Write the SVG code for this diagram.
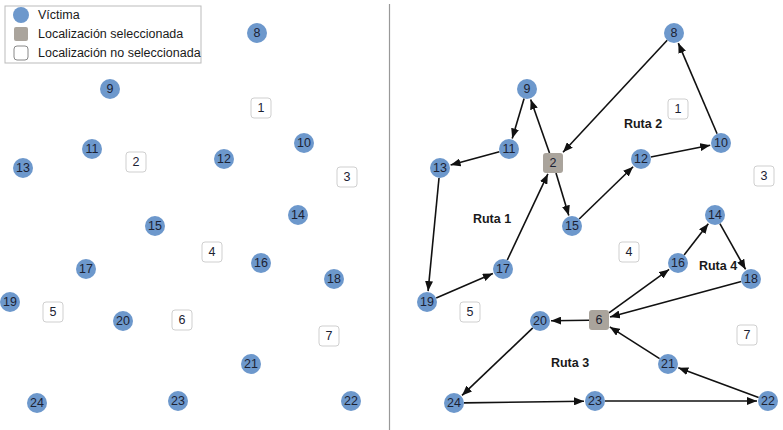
<svg xmlns="http://www.w3.org/2000/svg" width="783" height="430" viewBox="0 0 783 430">
<defs>
<marker id="ah" markerUnits="userSpaceOnUse" markerWidth="10" markerHeight="8" refX="10" refY="4" orient="auto"><path d="M0,0 L10,4 L0,8 z" fill="#111"/></marker>
<style>
.v circle{fill:#6d98cc;}
.v text,.s text,.u text{font-family:"Liberation Sans",Arial,sans-serif;font-size:12.5px;fill:#1c2233;text-anchor:middle;dominant-baseline:central;}
.s rect{fill:#aaa49c;}
.u rect{fill:#fff;stroke:#cfcfcf;stroke-width:1;}
.e line{stroke:#111;stroke-width:1.6;marker-end:url(#ah);}
.lab{font-family:"Liberation Sans",Arial,sans-serif;font-size:12.5px;font-weight:bold;fill:#1a1a1a;text-anchor:middle;dominant-baseline:central;}
.lg{font-family:"Liberation Sans",Arial,sans-serif;font-size:12.5px;fill:#1a1a1a;dominant-baseline:central;}
</style>
</defs>
<rect width="783" height="430" fill="#fff"/>
<line x1="389.5" y1="4" x2="389.5" y2="430" stroke="#999" stroke-width="1.2"/>
<g id="legend">
<rect x="5" y="6" width="196" height="57" fill="#fff" stroke="#bbb" stroke-width="1"/>
<circle cx="21" cy="15" r="8" fill="#6d98cc"/>
<rect x="14" y="27" width="14" height="14" rx="2" fill="#aaa49c"/>
<rect x="14" y="46" width="14" height="14" rx="3" fill="#fff" stroke="#888"/>
<text class="lg" x="38" y="15">Víctima</text>
<text class="lg" x="38" y="34">Localización seleccionada</text>
<text class="lg" x="38" y="53">Localización no seleccionada</text>
</g>
<!-- Left panel -->
<g id="L1" class="u"><rect x="251" y="98" width="20" height="20" rx="3"/><text x="261" y="108">1</text></g>
<g id="L2" class="u"><rect x="126" y="152" width="20" height="20" rx="3"/><text x="136" y="162">2</text></g>
<g id="L3" class="u"><rect x="337" y="167" width="20" height="20" rx="3"/><text x="347" y="177">3</text></g>
<g id="L4" class="u"><rect x="202" y="242" width="20" height="20" rx="3"/><text x="212" y="252">4</text></g>
<g id="L5" class="u"><rect x="43" y="302" width="20" height="20" rx="3"/><text x="53" y="312">5</text></g>
<g id="L6" class="u"><rect x="172" y="310" width="20" height="20" rx="3"/><text x="182" y="320">6</text></g>
<g id="L7" class="u"><rect x="319" y="326" width="20" height="20" rx="3"/><text x="329" y="336">7</text></g>
<g id="L8" class="v"><circle cx="257" cy="33" r="10"/><text x="257" y="33">8</text></g>
<g id="L9" class="v"><circle cx="110" cy="89" r="10"/><text x="110" y="89">9</text></g>
<g id="L10" class="v"><circle cx="304" cy="143" r="10"/><text x="304" y="143">10</text></g>
<g id="L11" class="v"><circle cx="92" cy="149" r="10"/><text x="92" y="149">11</text></g>
<g id="L12" class="v"><circle cx="224" cy="159" r="10"/><text x="224" y="159">12</text></g>
<g id="L13" class="v"><circle cx="23" cy="168" r="10"/><text x="23" y="168">13</text></g>
<g id="L14" class="v"><circle cx="298" cy="215" r="10"/><text x="298" y="215">14</text></g>
<g id="L15" class="v"><circle cx="155" cy="226" r="10"/><text x="155" y="226">15</text></g>
<g id="L16" class="v"><circle cx="261" cy="263" r="10"/><text x="261" y="263">16</text></g>
<g id="L17" class="v"><circle cx="86" cy="269" r="10"/><text x="86" y="269">17</text></g>
<g id="L18" class="v"><circle cx="334" cy="279" r="10"/><text x="334" y="279">18</text></g>
<g id="L19" class="v"><circle cx="10" cy="302" r="10"/><text x="10" y="302">19</text></g>
<g id="L20" class="v"><circle cx="123" cy="321" r="10"/><text x="123" y="321">20</text></g>
<g id="L21" class="v"><circle cx="251" cy="364" r="10"/><text x="251" y="364">21</text></g>
<g id="L22" class="v"><circle cx="351" cy="401" r="10"/><text x="351" y="401">22</text></g>
<g id="L23" class="v"><circle cx="178" cy="401" r="10"/><text x="178" y="401">23</text></g>
<g id="L24" class="v"><circle cx="37" cy="403" r="10"/><text x="37" y="403">24</text></g>
<!-- Right panel connectors -->
<g id="connectors" class="e">
<line x1="549.5" y1="153" x2="530.7" y2="99.4"/>
<line x1="524.1" y1="98.6" x2="512.2" y2="138.5"/>
<line x1="499.4" y1="151.7" x2="450.6" y2="165.1"/>
<line x1="439" y1="178" x2="428.1" y2="291.1"/>
<line x1="436.2" y1="298" x2="492.9" y2="273.4"/>
<line x1="507.3" y1="260" x2="547.9" y2="173.9"/>
<line x1="556" y1="173" x2="568.8" y2="215.5"/>
<line x1="579.2" y1="219" x2="633.1" y2="166.7"/>
<line x1="650.8" y1="157" x2="710.2" y2="145.2"/>
<line x1="717.1" y1="133.8" x2="678.3" y2="43.1"/>
<line x1="667.2" y1="40.3" x2="563" y2="152.3"/>
<line x1="609" y1="312.8" x2="669.1" y2="269.4"/>
<line x1="684.1" y1="255.1" x2="708.3" y2="223.7"/>
<line x1="719.9" y1="223.7" x2="745.6" y2="269.4"/>
<line x1="741.3" y1="281.6" x2="610" y2="317"/>
<line x1="589" y1="320.2" x2="551" y2="320.8"/>
<line x1="532.8" y1="327.9" x2="462" y2="395.4"/>
<line x1="464" y1="402.9" x2="584" y2="401.2"/>
<line x1="605" y1="401" x2="757" y2="401"/>
<line x1="758.6" y1="397.5" x2="678.3" y2="367.8"/>
<line x1="659.6" y1="358.6" x2="609.8" y2="326.9"/>
</g>
<text class="lab" x="492" y="219">Ruta 1</text>
<text class="lab" x="643" y="124">Ruta 2</text>
<text class="lab" x="570" y="363">Ruta 3</text>
<text class="lab" x="718" y="266">Ruta 4</text>
<!-- Right panel nodes -->
<g id="R1" class="u"><rect x="668" y="99" width="20" height="20" rx="3"/><text x="678" y="109">1</text></g>
<g id="R2" class="s"><rect x="543" y="153" width="20" height="20" rx="3"/><text x="553" y="163">2</text></g>
<g id="R3" class="u"><rect x="754" y="166" width="20" height="20" rx="3"/><text x="764" y="176">3</text></g>
<g id="R4" class="u"><rect x="619" y="242" width="20" height="20" rx="3"/><text x="629" y="252">4</text></g>
<g id="R5" class="u"><rect x="460" y="302" width="20" height="20" rx="3"/><text x="470" y="312">5</text></g>
<g id="R6" class="s"><rect x="589" y="310" width="20" height="20" rx="3"/><text x="599" y="320">6</text></g>
<g id="R7" class="u"><rect x="737" y="325" width="20" height="20" rx="3"/><text x="747" y="335">7</text></g>
<g id="R8" class="v"><circle cx="674" cy="33" r="10"/><text x="674" y="33">8</text></g>
<g id="R9" class="v"><circle cx="527" cy="89" r="10"/><text x="527" y="89">9</text></g>
<g id="R10" class="v"><circle cx="721" cy="143" r="10"/><text x="721" y="143">10</text></g>
<g id="R11" class="v"><circle cx="509" cy="149" r="10"/><text x="509" y="149">11</text></g>
<g id="R12" class="v"><circle cx="641" cy="159" r="10"/><text x="641" y="159">12</text></g>
<g id="R13" class="v"><circle cx="440" cy="168" r="10"/><text x="440" y="168">13</text></g>
<g id="R14" class="v"><circle cx="715" cy="215" r="10"/><text x="715" y="215">14</text></g>
<g id="R15" class="v"><circle cx="572" cy="226" r="10"/><text x="572" y="226">15</text></g>
<g id="R16" class="v"><circle cx="678" cy="263" r="10"/><text x="678" y="263">16</text></g>
<g id="R17" class="v"><circle cx="503" cy="269" r="10"/><text x="503" y="269">17</text></g>
<g id="R18" class="v"><circle cx="751" cy="279" r="10"/><text x="751" y="279">18</text></g>
<g id="R19" class="v"><circle cx="427" cy="302" r="10"/><text x="427" y="302">19</text></g>
<g id="R20" class="v"><circle cx="540" cy="321" r="10"/><text x="540" y="321">20</text></g>
<g id="R21" class="v"><circle cx="668" cy="364" r="10"/><text x="668" y="364">21</text></g>
<g id="R22" class="v"><circle cx="768" cy="401" r="10"/><text x="768" y="401">22</text></g>
<g id="R23" class="v"><circle cx="595" cy="401" r="10"/><text x="595" y="401">23</text></g>
<g id="R24" class="v"><circle cx="454" cy="403" r="10"/><text x="454" y="403">24</text></g>
</svg>
